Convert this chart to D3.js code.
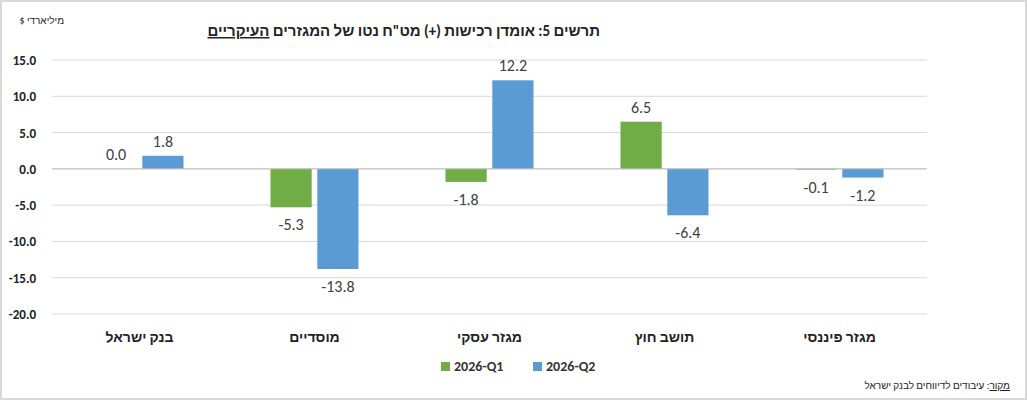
<!DOCTYPE html>
<html><head><meta charset="utf-8">
<script src="https://cdn.jsdelivr.net/npm/d3@7"></script>
<style>body{margin:0;background:#fff}svg{font-family:Calibri,Carlito,"Liberation Sans",Arial,sans-serif}</style>
</head><body>
<svg id="c" width="1027" height="400"></svg>
<script>
var categories = ["בנק ישראל", "מוסדיים", "מגזר עסקי", "תושב חוץ", "מגזר פיננסי"];
var seriesNames = ["2026-Q1", "2026-Q2"];
var q1 = [0.0, -5.3, -1.8, 6.5, -0.1];
var q2 = [1.8, -13.8, 12.2, -6.4, -1.2];
var yTicks = [15, 10, 5, 0, -5, -10, -15, -20];
var colors = ["#70ad47", "#5b9bd5"];

var svg = d3.select("#c");
svg.append("rect").attr("x", 1).attr("y", 1).attr("width", 1025).attr("height", 398)
  .attr("fill", "#fff").attr("stroke", "#d9d9d9").attr("stroke-width", 2);

var y = d3.scaleLinear().domain([-20, 15]).range([314, 60]);
var x = d3.scaleBand().domain(categories).range([52, 927]);
var xs = d3.scaleBand().domain(seriesNames).range([x.bandwidth() / 2 - 44, x.bandwidth() / 2 + 44]).paddingInner(0.12);

// gridlines
svg.append("g").selectAll("line").data(yTicks).enter().append("line")
  .attr("x1", 52).attr("x2", 927)
  .attr("y1", function(d){ return y(d); }).attr("y2", function(d){ return y(d); })
  .attr("stroke", "#d9d9d9").attr("stroke-width", 1);

svg.append("g").selectAll("text").data(yTicks).enter().append("text")
  .attr("x", 36).attr("y", function(d){ return y(d) + 5; })
  .attr("text-anchor", "end").attr("font-size", 13).attr("font-weight", "bold").attr("fill", "#222")
  .text(function(d){ return d.toFixed(1); });

var data = [];
categories.forEach(function(c, i){
  data.push({c: c, s: seriesNames[0], v: q1[i], k: 0});
  data.push({c: c, s: seriesNames[1], v: q2[i], k: 1});
});

var g = svg.append("g");
g.selectAll("rect").data(data).enter().append("rect")
  .attr("x", function(d){ return x(d.c) + xs(d.s); })
  .attr("width", xs.bandwidth())
  .attr("y", function(d){ return y(Math.max(0, d.v)); })
  .attr("height", function(d){ return Math.abs(y(d.v) - y(0)); })
  .attr("fill", function(d){ return colors[d.k]; });

g.selectAll("text").data(data).enter().append("text")
  .attr("x", function(d){ return x(d.c) + xs(d.s) + xs.bandwidth() / 2; })
  .attr("y", function(d){ return d.v >= 0 ? y(d.v) - 9 : y(d.v) + 23; })
  .attr("text-anchor", "middle").attr("font-size", 16).attr("fill", "#404040")
  .text(function(d){ return d.v.toFixed(1); });

svg.append("line").attr("x1", 52).attr("x2", 927).attr("y1", y(0)).attr("y2", y(0))
  .attr("stroke", "#bfbfbf");

svg.append("g").selectAll("text").data(categories).enter().append("text")
  .attr("x", function(d){ return x(d) + x.bandwidth() / 2; }).attr("y", 342)
  .attr("text-anchor", "middle").attr("font-size", 14).attr("font-weight", "bold").attr("fill", "#222")
  .text(function(d){ return d; });

// title (rtl: start anchors the right edge)
var t = svg.append("text").attr("x", 600).attr("y", 36).attr("text-anchor", "start")
  .attr("direction", "rtl").attr("font-size", 15).attr("font-weight", "bold").attr("fill", "#222");
t.append("tspan").text("תרשים 5: אומדן רכישות (+) מט\"ח נטו של המגזרים ");
t.append("tspan").attr("text-decoration", "underline").text("העיקריים");

svg.append("text").attr("x", 64).attr("y", 24).attr("text-anchor", "start").attr("direction", "rtl")
  .attr("font-size", 10).attr("fill", "#222").text("מיליארדי $");

// legend
var lg = svg.append("g").selectAll("g").data(seriesNames).enter().append("g")
  .attr("transform", function(d, i){ return "translate(" + (441 + i * 92) + ",371)"; });
lg.append("rect").attr("x", 0).attr("y", -9).attr("width", 9).attr("height", 9)
  .attr("fill", function(d, i){ return colors[i]; });
lg.append("text").attr("x", 13).attr("y", 0).attr("font-size", 14).attr("font-weight", "bold")
  .attr("fill", "#333").text(function(d){ return d; });

var s = svg.append("text").attr("x", 1010).attr("y", 389).attr("text-anchor", "start")
  .attr("direction", "rtl").attr("font-size", 10).attr("fill", "#222");
s.append("tspan").attr("text-decoration", "underline").text("מקור");
s.append("tspan").text(": עיבודים לדיווחים לבנק ישראל");
</script>
</body></html>
